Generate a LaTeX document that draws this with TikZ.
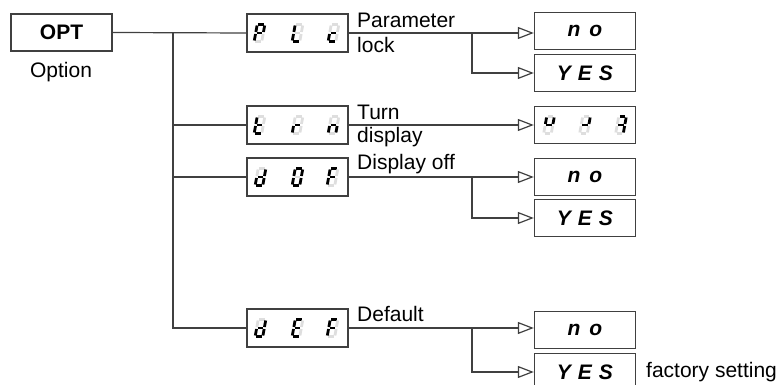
\documentclass[tikz,border=0pt]{standalone}
\usepackage{fontspec}
\setmainfont{Liberation Sans}
\usetikzlibrary{arrows.meta}
\tikzset{
  ln/.style={draw=black!75, line width=1.2pt},
  box/.style={draw=black!75, line width=1.4pt, minimum width=101pt, minimum height=37pt, inner sep=0pt,
    font=\fontsize{21}{24}\selectfont\bfseries\itshape},
  disp/.style={box, minimum height=38pt},
  lbl/.style={anchor=west, inner sep=0pt, font=\fontsize{21}{24}\selectfont},
  arr/.style={ln, -{Triangle[open, length=16pt, width=12pt, line width=1.2pt]}},
  seg0/.style={draw=black!13},
  seg1/.style={draw=black},
}
% #1 node, #2 x offset, #3..#9 segments a b c d e f g
\newcommand\ssd[9]{%
  \begin{scope}[shift={(#1)}, xshift=#2pt, xslant=0.18, line width=2.8pt, line cap=butt]
    \draw[seg#3] (-2.6,-8.5)--(2.6,-8.5);
    \draw[seg#4] (3.8,-7.5)--(3.8,-1);
    \draw[seg#5] (3.8,1)--(3.8,7.5);
    \draw[seg#6] (-2.6,8.5)--(2.6,8.5);
    \draw[seg#7] (-3.8,1)--(-3.8,7.5);
    \draw[seg#8] (-3.8,-7.5)--(-3.8,-1);
    \draw[seg#9] (-2.6,0)--(2.6,0);
  \end{scope}}
\begin{document}
\begin{tikzpicture}[x=1pt, y=-1pt]
  \clip (0,0) rectangle (777,385);
  % left
  \node[box, font=\fontsize{21}{24}\selectfont\bfseries] (opt) at (61.5,32.5) {OPT};
  \node[lbl, anchor=center] (optl) at (61,72) {Option};
  % displays
  \node[disp] (plc) at (297.5,33) {};
  \node[disp] (trn) at (297.5,125) {};
  \node[disp] (dof) at (297.5,177) {};
  \node[disp] (def) at (297.5,328) {};
  % right boxes
  \node[box] (no1) at (585,31) {n\hspace{9pt}o};
  \node[box] (yes1) at (585,73) {Y\hspace{7pt}E\hspace{7pt}S};
  \node[box] (urn) at (585,125) {};
  \node[box] (no2) at (585,177) {n\hspace{9pt}o};
  \node[box] (yes2) at (585,218) {Y\hspace{7pt}E\hspace{7pt}S};
  \node[box] (no3) at (585,330) {n\hspace{9pt}o};
  \node[box] (yes3) at (585,372) {Y\hspace{7pt}E\hspace{7pt}S};
  % labels
  \node[lbl] (l1) at (357,20) {Parameter};
  \node[lbl] (l2) at (357,45) {lock};
  \node[lbl] (l3) at (357,112) {Turn};
  \node[lbl] (l4) at (357,137) {display};
  \node[lbl] (l5) at (357,164) {Display off};
  \node[lbl] (l6) at (357,314) {Default};
  \node[lbl] (l7) at (646,372) {factory setting};
  % trunk
  \coordinate (tr) at (173,0);
  \coordinate (br) at (472,0);
  \draw[ln] (opt.east) -- (plc.west);
  \draw[ln] (tr |- opt.east) -- (tr |- def.west) -- (def.west);
  \draw[ln] (tr |- trn.west) -- (trn.west);
  \draw[ln] (tr |- dof.west) -- (dof.west);
  % arrows
  \draw[arr] (plc.east) -- (plc.east -| no1.west);
  \draw[arr] (br |- plc.east) |- (yes1.west);
  \draw[arr] (trn.east) -- (urn.west);
  \draw[arr] (dof.east) -- (no2.west);
  \draw[arr] (br |- dof.east) |- (yes2.west);
  \draw[arr] (def.east) -- (def.east -| no3.west);
  \draw[arr] (br |- def.east) |- (yes3.west);
  % digits: P L c
  \ssd{plc}{-38}{1}{1}{0}{0}{1}{1}{1}
  \ssd{plc}{0}{0}{0}{0}{1}{1}{1}{0}
  \ssd{plc}{36}{0}{0}{0}{1}{1}{0}{1}
  % t r n
  \ssd{trn}{-38}{0}{0}{0}{1}{1}{1}{1}
  \ssd{trn}{0}{0}{0}{0}{0}{1}{0}{1}
  \ssd{trn}{36}{0}{0}{1}{0}{1}{0}{1}
  % d 0 F
  \ssd{dof}{-37}{0}{1}{1}{1}{1}{0}{1}
  \ssd{dof}{0}{1}{1}{1}{1}{1}{1}{0}
  \ssd{dof}{35}{1}{0}{0}{0}{1}{1}{1}
  % d E F
  \ssd{def}{-37}{0}{1}{1}{1}{1}{0}{1}
  \ssd{def}{0}{1}{0}{0}{1}{1}{1}{1}
  \ssd{def}{35}{1}{0}{0}{0}{1}{1}{1}
  % turned display
  \ssd{urn}{-36}{0}{1}{0}{0}{0}{1}{1}
  \ssd{urn}{0}{0}{1}{0}{0}{0}{0}{1}
  \ssd{urn}{36}{1}{1}{1}{0}{0}{0}{1}
\end{tikzpicture}
\end{document}
